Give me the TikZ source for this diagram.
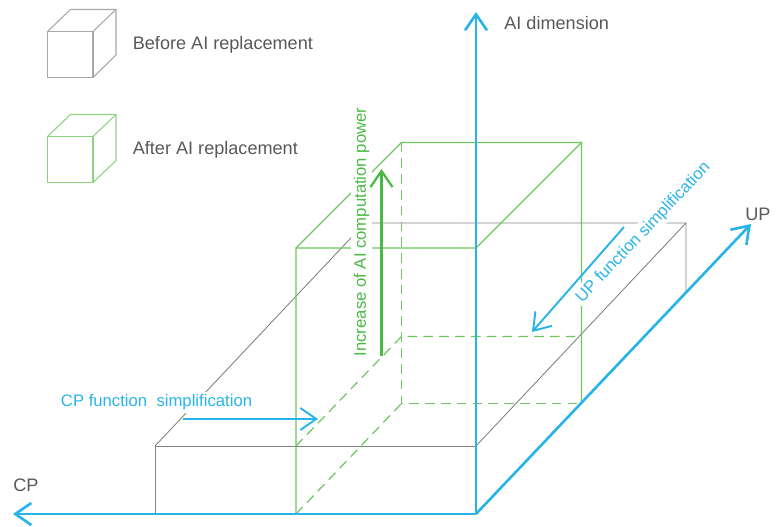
\documentclass[tikz,border=0pt]{standalone}
\usepackage{fontspec}
\setmainfont{Liberation Sans}
\usepackage{tikz}
\usetikzlibrary{arrows.meta}
\usepackage{xcolor}

\definecolor{axisblue}{RGB}{41,180,232}
\definecolor{labelgray}{RGB}{88,88,88}
\definecolor{boxgray}{RGB}{130,130,130}
\definecolor{cubegray}{RGB}{168,168,168}
\definecolor{boxgreen}{RGB}{110,198,96}
\definecolor{cubegreen}{RGB}{140,210,128}
\definecolor{textgreen}{RGB}{76,184,70}

\begin{document}
\begin{tikzpicture}[
    axis/.style={draw=axisblue, line width=1.5pt, -{Straight Barb[length=3.2mm,width=4.4mm]}},
    bluearrow/.style={draw=axisblue, line width=1.1pt, -{Straight Barb[length=3.2mm,width=4.4mm]}},
    greenarrow/.style={draw=textgreen, line width=1.3pt, -{Straight Barb[length=3.2mm,width=4.4mm]}},
    graybox/.style={draw=boxgray, line width=0.5pt},
    greenbox/.style={draw=boxgreen, line width=0.7pt},
    hidden/.style={greenbox, dash pattern=on 5.5pt off 3.5pt},
    lbl/.style={text=labelgray, font=\fontsize{10.3}{12}\selectfont, inner sep=0pt},
    note/.style={fill=white, inner sep=1.5pt, font=\fontsize{9.5}{11}\selectfont},
]
    \useasboundingbox (-9.52,-0.26) rectangle (6.0,10.28);

    % Legend cubes
    \draw[cubegray, line width=0.6pt] (-8.57,8.73) rectangle (-7.66,9.65);
    \draw[cubegray, line width=0.6pt] (-8.57,9.65) -- ++(0.46,0.44) -- ++(0.91,0) -- ++(0,-0.91) -- (-7.66,8.73);
    \draw[cubegray, line width=0.6pt] (-7.66,9.65) -- ++(0.46,0.44);
    \node[lbl, anchor=base west] (before) at (-6.87,9.28) {Before AI replacement};

    \draw[cubegreen, line width=0.6pt] (-8.57,6.63) rectangle (-7.66,7.55);
    \draw[cubegreen, line width=0.6pt] (-8.57,7.55) -- ++(0.46,0.44) -- ++(0.91,0) -- ++(0,-0.92) -- (-7.66,6.63);
    \draw[cubegreen, line width=0.6pt] (-7.66,7.55) -- ++(0.46,0.44);
    \node[lbl, anchor=base west] (after) at (-6.87,7.18) {After AI replacement};

    % Gray box - before AI replacement
    \coordinate (O) at (0,0);
    \coordinate (gfbl) at (-6.42,0);
    \coordinate (gftl) at (-6.42,1.36);
    \coordinate (gftr) at (0,1.36);
    \coordinate (gbtl) at (-2.22,5.82);
    \coordinate (gbtr) at (4.2,5.82);
    \coordinate (gbbr) at (4.2,4.46);
    \draw[graybox] (gfbl) -- (gftl) -- (gftr);
    \draw[graybox] (gftl) -- (gbtl) -- (gbtr) -- (gbbr);
    \draw[graybox] (gftr) -- (gbtr);

    % Green box - after AI replacement
    \coordinate (hfbl) at (-3.6,0);
    \coordinate (hfml) at (-3.6,1.36);
    \coordinate (hftl) at (-3.6,5.32);
    \coordinate (hftr) at (0,5.32);
    \coordinate (hbtl) at (-1.49,7.43);
    \coordinate (hbtr) at (2.11,7.43);
    \coordinate (hbml) at (-1.49,3.55);
    \coordinate (hbmr) at (2.11,3.55);
    \coordinate (hbbl) at (-1.49,2.21);
    \coordinate (hbbr) at (2.11,2.21);
    \draw[greenbox] (hfbl) -- (hftl) -- (hftr) -- (hbtr) -- (hbbr);
    \draw[greenbox] (hftl) -- (hbtl) -- (hbtr);
    \draw[hidden] (hbtl) -- (hbbl) -- (hbbr);
    \draw[hidden] (hfbl) -- (hbbl);
    \draw[hidden] (hfml) -- (hbml) -- (hbmr);

    % Axes
    \coordinate (cpend) at (-9.26,0);
    \coordinate (aiend) at (0,10.04);
    \coordinate (upend) at (5.5,5.8);
    \draw[axis] (O) -- (cpend);
    \draw[axis] (O) -- (aiend);
    \draw[axis] (O) -- (upend);
    \node[lbl, anchor=base west] (cp) at (-9.26,0.44) {CP};
    \node[lbl, anchor=base west] (ai) at (0.56,9.68) {AI dimension};
    \node[lbl, anchor=base west] (up) at (5.38,5.86) {UP};

    % Simplification and increase arrows
    \node[note, text=axisblue, anchor=base west] (cpnote) at (-8.36,2.15) {CP function\ \ simplification};
    \coordinate (cpfrom) at (-5.86,1.9);
    \coordinate (cpto) at (-3.16,1.9);
    \draw[bluearrow] (cpfrom) -- (cpto);

    \node[note, text=axisblue, rotate=46.5] (upnote) at (3.35,5.63) {UP function simplification};
    \coordinate (upfrom) at (2.96,5.74);
    \coordinate (upto) at (1.12,3.64);
    \draw[bluearrow] (upfrom) -- (upto);

    \node[note, text=textgreen, rotate=90] (ainote) at (-2.29,5.64) {Increase of AI computation power};
    \coordinate (aifrom) at (-1.89,3.16);
    \coordinate (aito) at (-1.89,6.9);
    \draw[greenarrow] (aifrom) -- (aito);
\end{tikzpicture}
\end{document}
